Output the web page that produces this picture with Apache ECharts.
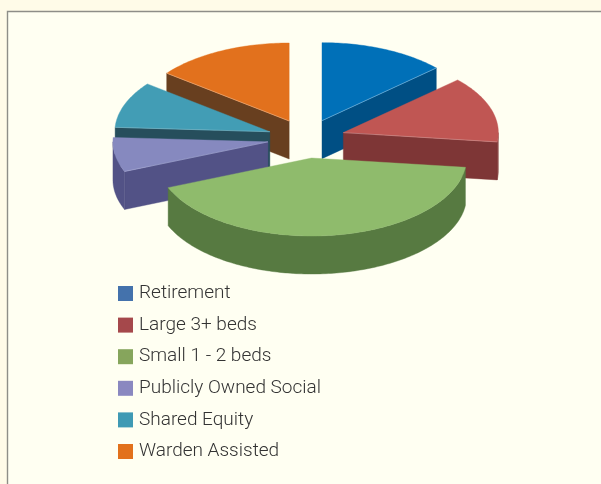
<!DOCTYPE html>
<html><head><meta charset="utf-8">
<style>html,body{margin:0;padding:0;background:#FFFBE8}#c{width:601px;height:484px}</style>
<script src="https://cdn.jsdelivr.net/npm/echarts@6/dist/echarts.min.js"></script>
</head><body><div id="c"></div>
<script>
const categories = ['Retirement','Large 3+ beds','Small 1 - 2 beds','Publicly Owned Social','Shared Equity','Warden Assisted'];
const shares = [13.2, 13.7, 41.9, 7.1, 9.6, 14.5];

const topColors  = ['#0070B8','#C05653','#8FBB6C','#8689BF','#429DB5','#E2711D'];
const sideColors = ['#004F84','#7E3636','#577A41','#525286','#264E5C','#683F1F'];
const edgeColors = ['#8FC4E4','#D09593','#A9CB8E','#ABADD5','#7FBDCD','#F0B58A'];
const legendColors = ['#4472AC','#A5484B','#86A55C','#8A88C0','#3F9AB4','#E2711C'];

const G = {cx:306.3, cy:138.6, rx:155, ry:78, ex:38.9, ey:19.6, depth:38};
const total = shares.reduce((a,b)=>a+b,0);
const rad = d => d*Math.PI/180;

function rimPoint(c, deg, dy){
  return [c[0]+G.rx*Math.sin(rad(deg)), c[1]-G.ry*Math.cos(rad(deg))+(dy||0)];
}
function arc(c, a, b, dy){
  const pts=[]; const n=Math.max(2,Math.ceil(Math.abs(b-a)));
  for(let i=0;i<=n;i++) pts.push(rimPoint(c,a+(b-a)*i/n,dy));
  return pts;
}
function poly(points, fill){
  return {type:'polygon', shape:{points}, style:{fill, stroke:fill, lineWidth:0.4, lineJoin:'round'}};
}
function edge(p, q, color){
  return {type:'line', shape:{x1:p[0],y1:p[1],x2:q[0],y2:q[1]}, style:{stroke:color, lineWidth:0.7, opacity:0.8}};
}
function sliceRender(idx){
  return function(params, api){
    const a=api.value(0), b=api.value(1), mid=(a+b)/2;
    const c=[G.cx+G.ex*Math.sin(rad(mid)), G.cy-G.ey*Math.cos(rad(mid))];
    const cd=[c[0],c[1]+G.depth];
    const kids=[], side=sideColors[idx];
    const radial=(deg)=>{
      kids.push(poly([c,rimPoint(c,deg),rimPoint(c,deg,G.depth),cd],side));
    };
    // radial faces that look toward the viewer
    if(a>180) radial(a);
    if(b<180) radial(b);
    // outer wall, front half only
    const s=Math.max(a,90), e=Math.min(b,270);
    if(e>s) kids.push(poly(arc(c,s,e).concat(arc(c,e,s,G.depth)),side));
    kids.push(poly([c].concat(arc(c,a,b)),topColors[idx]));
    if(a>180) kids.push(edge(c,rimPoint(c,a),edgeColors[idx]));
    if(b<180) kids.push(edge(c,rimPoint(c,b),edgeColors[idx]));
    return {type:'group',children:kids};
  };
}
let acc=0;
const spans=shares.map(v=>{const s=[acc/total*360,(acc+v)/total*360];acc+=v;return s;});
// painter's order: slices farther from the viewer first
const depthOrder=spans.map((s,i)=>({i,k:Math.cos(rad((s[0]+s[1])/2))})).sort((p,q)=>q.k-p.k);
const zOf={}; depthOrder.forEach((o,n)=>zOf[o.i]=n+2);

const series=categories.map((name,i)=>({
  type:'custom', name, coordinateSystem:'none', silent:true, animation:false, z:zOf[i],
  itemStyle:{color:legendColors[i]},
  renderItem:sliceRender(i),
  data:[spans[i]], clip:false
}));

const chart=echarts.init(document.getElementById('c'),null,{renderer:'canvas'});
chart.setOption({
  backgroundColor:'#FFFBE8',
  animation:false,
  legend:{
    orient:'vertical', left:118, top:283, itemWidth:15, itemHeight:15, itemGap:10.6,
    selectedMode:false, padding:0, icon:'rect',
    textStyle:{fontFamily:'Roboto',fontWeight:300,fontSize:19,lineHeight:21,color:'#333333',padding:[0,0,0,1]},
    data:categories
  },
  graphic:[
    {type:'rect',z:0,silent:true,shape:{x:7.5,y:11.5,width:600,height:480},style:{fill:'#FFFFF2',stroke:'#8E8E88',lineWidth:1.4}}
  ],
  series
});
</script></body></html>
